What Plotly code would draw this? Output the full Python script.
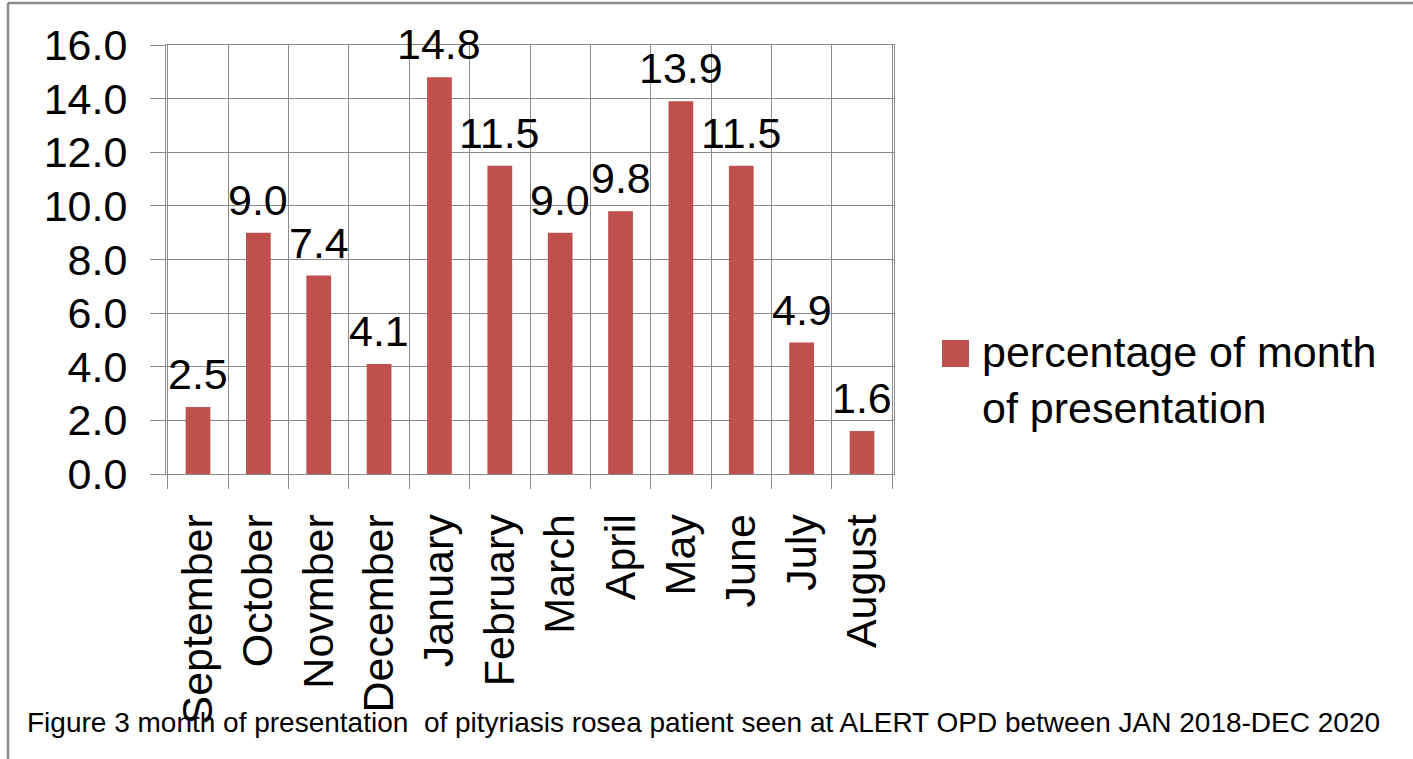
import plotly.graph_objects as go

months = ["September", "October", "Novmber", "December", "January", "February",
          "March", "April", "May", "June", "July", "August"]
percentages = [2.5, 9.0, 7.4, 4.1, 14.8, 11.5, 9.0, 9.8, 13.9, 11.5, 4.9, 1.6]
series_name = "percentage of month<br>of presentation"
caption = "Figure 3 month of presentation  of pityriasis rosea patient seen at ALERT OPD between JAN 2018-DEC 2020"

W, H = 1413, 759
L, R, T, B = 166, 894, 45, 474
BAR = "#C0504D"
GRID = "#8a8a8a"
FONT = "Liberation Sans"

def px(x):
    return (x - L) / (R - L)

def py(y):
    return (B - y) / (B - T)

fig = go.Figure()
fig.add_trace(go.Bar(
    x=months, y=percentages, name=series_name,
    marker=dict(color=BAR, line=dict(width=0)),
    showlegend=False,
))

# value labels above bars, placed in data coordinates
for m, v in zip(months, percentages):
    fig.add_annotation(x=m, y=v, xref="x", yref="y", text=f"{v:.1f}", showarrow=False,
                       yanchor="bottom", xanchor="center", yshift=7,
                       font=dict(family=FONT, size=43, color="black"))

fig.update_layout(
    width=W, height=H,
    margin=dict(l=L, r=W - R, t=T, b=H - B),
    paper_bgcolor="white", plot_bgcolor="white",
    bargap=0.59,
    font=dict(family=FONT, color="black"),
    xaxis=dict(
        type="category", tickson="boundaries", showgrid=True, gridcolor=GRID, gridwidth=1,
        ticks="outside", ticklen=14, tickcolor=GRID, tickwidth=1,
        showline=True, linecolor=GRID, linewidth=1, mirror=True,
        tickangle=-90, tickfont=dict(family=FONT, size=43, color="black"),
        ticklabelstandoff=22,
    ),
    yaxis=dict(
        range=[0, 16], dtick=2, tickformat=".1f", showgrid=True, gridcolor=GRID, gridwidth=1,
        ticks="outside", ticklen=15, tickcolor=GRID, tickwidth=1,
        showline=True, linecolor=GRID, linewidth=1, mirror=True, zeroline=False,
        tickfont=dict(family=FONT, size=43, color="black"),
        ticklabelstandoff=14,
    ),
)

# outer frame of the figure
fig.add_shape(type="line", xref="paper", yref="paper", x0=px(8), x1=px(W + 5), y0=py(3), y1=py(3),
              line=dict(color=GRID, width=2.5))
fig.add_shape(type="line", xref="paper", yref="paper", x0=px(8), x1=px(8), y0=py(3), y1=py(H + 5),
              line=dict(color=GRID, width=2.5))

# legend (manual, to match the large swatch)
fig.add_shape(type="rect", xref="paper", yref="paper", x0=px(942), x1=px(969), y0=py(340), y1=py(367),
              fillcolor=BAR, line=dict(width=0))
fig.add_annotation(xref="paper", yref="paper", x=px(980), y=py(380), xanchor="left", yanchor="middle",
                   text=series_name, showarrow=False, align="left",
                   font=dict(family=FONT, size=43, color="black"))

# caption
fig.add_annotation(xref="paper", yref="paper", x=px(25), y=py(722), xanchor="left", yanchor="middle",
                   text=caption, showarrow=False, align="left",
                   font=dict(family=FONT, size=28, color="black"))

fig.write_html("out.html", config={"displayModeBar": False},
               post_script="document.body.style.margin='0px';")
